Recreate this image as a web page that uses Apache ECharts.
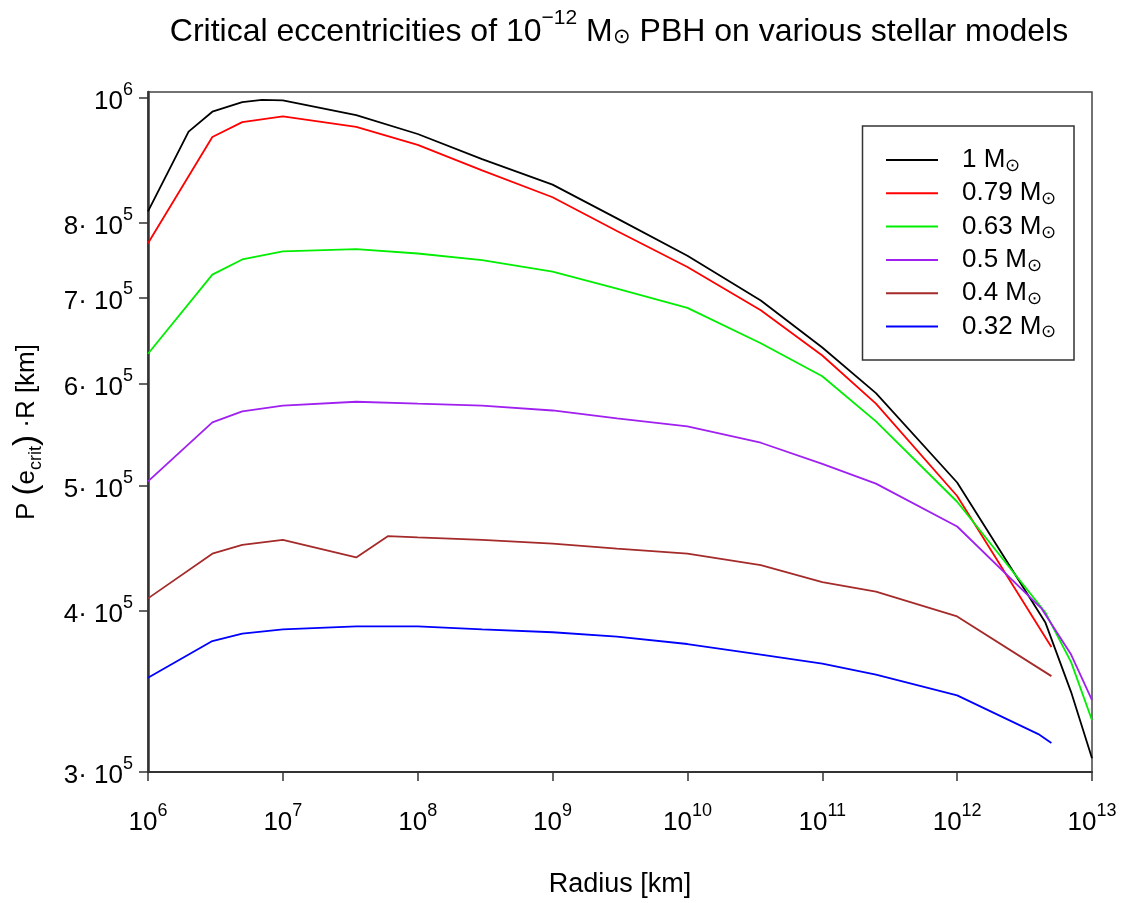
<!DOCTYPE html>
<html>
<head>
<meta charset="utf-8">
<script src="https://cdn.jsdelivr.net/npm/echarts@6/dist/echarts.min.js"></script>
<style>html,body{margin:0;padding:0;background:#fff;}#c{width:1127px;height:903px;}</style>
</head>
<body>
<div id="c"></div>
<script>
// ---- data ----
const seriesNames = ['1 M⊙', '0.79 M⊙', '0.63 M⊙', '0.5 M⊙', '0.4 M⊙', '0.32 M⊙'];
const seriesColors = ['#000000', '#ff0000', '#00ee00', '#a020f0', '#a52a2a', '#0000ff'];

const r_1 = [1e6, 2e6, 3e6, 5e6, 7e6, 1e7, 3.5e7, 1e8, 3e8, 1e9, 3e9, 1e10, 3.5e10, 1e11, 2.5e11, 1e12, 4.5e12, 7e12, 1e13];
const p_1 = [8.16e5, 9.41e5, 9.75e5, 9.92e5, 9.96e5, 9.95e5, 9.69e5, 9.37e5, 8.96e5, 8.56e5, 8.06e5, 7.54e5, 6.96e5, 6.40e5, 5.90e5, 5.03e5, 3.92e5, 3.46e5, 3.075e5];

const r_079 = [1e6, 3e6, 5e6, 1e7, 3.5e7, 1e8, 3e8, 1e9, 3e9, 1e10, 3.5e10, 1e11, 2.5e11, 1e12, 5e12];
const p_079 = [7.71e5, 9.32e5, 9.57e5, 9.67e5, 9.49e5, 9.19e5, 8.78e5, 8.37e5, 7.88e5, 7.39e5, 6.84e5, 6.31e5, 5.79e5, 4.91e5, 3.75e5];

const r_063 = [1e6, 3e6, 5e6, 1e7, 3.5e7, 1e8, 3e8, 1e9, 3e9, 1e10, 3.5e10, 1e11, 2.5e11, 1e12, 4.5e12, 7e12, 1e13];
const p_063 = [6.33e5, 7.29e5, 7.49e5, 7.60e5, 7.63e5, 7.57e5, 7.48e5, 7.33e5, 7.11e5, 6.87e5, 6.45e5, 6.08e5, 5.61e5, 4.86e5, 3.99e5, 3.65e5, 3.29e5];

const r_05 = [1e6, 3e6, 5e6, 1e7, 3.5e7, 1e8, 3e8, 1e9, 3e9, 1e10, 3.5e10, 1e11, 2.5e11, 1e12, 4.2e12, 7e12, 1e13];
const p_05 = [5.04e5, 5.60e5, 5.71e5, 5.77e5, 5.81e5, 5.79e5, 5.77e5, 5.72e5, 5.64e5, 5.56e5, 5.40e5, 5.20e5, 5.02e5, 4.65e5, 4.02e5, 3.70e5, 3.41e5];

const r_04 = [1e6, 3e6, 5e6, 1e7, 3.5e7, 6e7, 1e8, 3e8, 1e9, 3e9, 1e10, 3.5e10, 1e11, 2.5e11, 1e12, 5e12];
const p_04 = [4.09e5, 4.43e5, 4.50e5, 4.54e5, 4.40e5, 4.57e5, 4.56e5, 4.54e5, 4.51e5, 4.47e5, 4.43e5, 4.34e5, 4.21e5, 4.14e5, 3.96e5, 3.56e5];

const r_032 = [1e6, 3e6, 5e6, 1e7, 3.5e7, 1e8, 3e8, 1e9, 3e9, 1e10, 3.5e10, 1e11, 2.5e11, 1e12, 4e12, 5e12];
const p_032 = [3.55e5, 3.79e5, 3.84e5, 3.87e5, 3.89e5, 3.89e5, 3.87e5, 3.85e5, 3.82e5, 3.77e5, 3.70e5, 3.64e5, 3.57e5, 3.44e5, 3.21e5, 3.16e5];

const yTickValues = [3e5, 4e5, 5e5, 6e5, 7e5, 8e5, 1e6];
const yTickMantissa = ['3', '4', '5', '6', '7', '8', ''];
const xTickExponents = [6, 7, 8, 9, 10, 11, 12, 13];

const radii = [r_1, r_079, r_063, r_05, r_04, r_032];
const values = [p_1, p_079, p_063, p_05, p_04, p_032];

// ---- chart ----
const FONT = '"Liberation Sans", Arial, sans-serif';
const chart = echarts.init(document.getElementById('c'), null, {renderer: 'canvas'});
const lg = Math.log10;

const supRich = {
  b: {fontSize: 26, fontFamily: FONT, color: '#000', lineHeight: 34, verticalAlign: 'bottom'},
  s: {fontSize: 18, fontFamily: FONT, color: '#000', lineHeight: 20, verticalAlign: 'top'}
};

const series = seriesNames.map((name, k) => ({
  name: name,
  type: 'line',
  showSymbol: false,
  symbol: 'none',
  color: seriesColors[k],
  lineStyle: {width: 1.8, color: seriesColors[k]},
  data: radii[k].map((r, i) => [lg(r), lg(values[k][i])]),
  animation: false,
  z: 3
}));

const option = {
  backgroundColor: '#fff',
  animation: false,
  title: {
    text: '{t|Critical eccentricities of 10}{s|−12}{t| M}{sub|⊙}{t| PBH on various stellar models}',
    left: 614, top: 3,
    textAlign: 'center',
    textStyle: {
      fontWeight: 'normal',
      rich: {
        t: {fontSize: 32, fontWeight: 'normal', fontFamily: FONT, color: '#000', lineHeight: 40, verticalAlign: 'bottom'},
        s: {fontSize: 21, fontWeight: 'normal', fontFamily: FONT, color: '#000', lineHeight: 20, verticalAlign: 'top'},
        sub: {fontSize: 21, fontWeight: 'normal', fontFamily: FONT, color: '#000', lineHeight: 20, verticalAlign: 'bottom'}
      }
    }
  },
  grid: {
    left: 148, right: 35, top: 92, bottom: 129,
    show: true, borderColor: '#444', borderWidth: 1.5, backgroundColor: 'transparent'
  },
  legend: {
    orient: 'vertical',
    left: 886, top: 145,
    data: seriesNames,
    icon: 'rect',
    itemWidth: 52, itemHeight: 2,
    itemGap: 3.3,
    padding: 0,
    formatter: n => n.replace('M⊙', 'M{sub|⊙}'),
    textStyle: {
      fontSize: 26, fontFamily: FONT, color: '#000', lineHeight: 30,
      padding: [0, 0, 0, 19],
      rich: {
        sub: {fontSize: 18, fontFamily: FONT, color: '#000', lineHeight: 16, verticalAlign: 'bottom'}
      }
    },
    selectedMode: false
  },
  xAxis: {
    type: 'value',
    min: 6, max: 13, interval: 1,
    name: 'Radius [km]',
    nameLocation: 'middle',
    nameGap: 99,
    nameTextStyle: {fontSize: 27, fontFamily: FONT, color: '#000'},
    axisLine: {show: true, onZero: false, lineStyle: {color: '#333', width: 2}},
    axisTick: {show: true, inside: false, length: 9, lineStyle: {color: '#333', width: 1.5}},
    splitLine: {show: false},
    axisLabel: {
      margin: 30,
      formatter: v => '{b|10}{s|' + v + '}',
      rich: supRich
    }
  },
  yAxis: {
    type: 'value',
    min: lg(3e5), max: 6.0043,
    name: '{t|P }{p|(}{t|e}{sub|crit}{p|)}{t| ·R [km]}',
    nameLocation: 'middle',
    nameRotate: 90,
    nameGap: 103,
    nameTextStyle: {
      rich: {
        t: {fontSize: 26, fontFamily: FONT, color: '#000', lineHeight: 36, verticalAlign: 'middle'},
        p: {fontSize: 33, fontFamily: FONT, color: '#000', lineHeight: 36, verticalAlign: 'middle'},
        sub: {fontSize: 18, fontFamily: FONT, color: '#000', lineHeight: 16, verticalAlign: 'bottom'}
      }
    },
    axisLine: {show: true, onZero: false, lineStyle: {color: '#333', width: 2.5}},
    axisTick: {show: true, inside: false, length: 9, lineStyle: {color: '#333', width: 1.5},
      customValues: yTickValues.map(lg)},
    splitLine: {show: false},
    axisLabel: {
      margin: 15,
      customValues: yTickValues.map(lg),
      formatter: v => {
        const idx = yTickValues.findIndex(t => Math.abs(lg(t) - v) < 1e-6);
        const m = yTickMantissa[idx];
        const e = Math.round(lg(yTickValues[idx] / (m ? +m : 1)));
        return (m ? '{b|' + m + '· 10}' : '{b|10}') + '{s|' + e + '}';
      },
      rich: supRich
    }
  },
  graphic: [{
    type: 'rect',
    shape: {x: 862.5, y: 126, width: 211.5, height: 234},
    style: {fill: 'none', stroke: '#333', lineWidth: 1.5},
    z: 10
  }],
  series: series
};
chart.setOption(option);
</script>
</body>
</html>
